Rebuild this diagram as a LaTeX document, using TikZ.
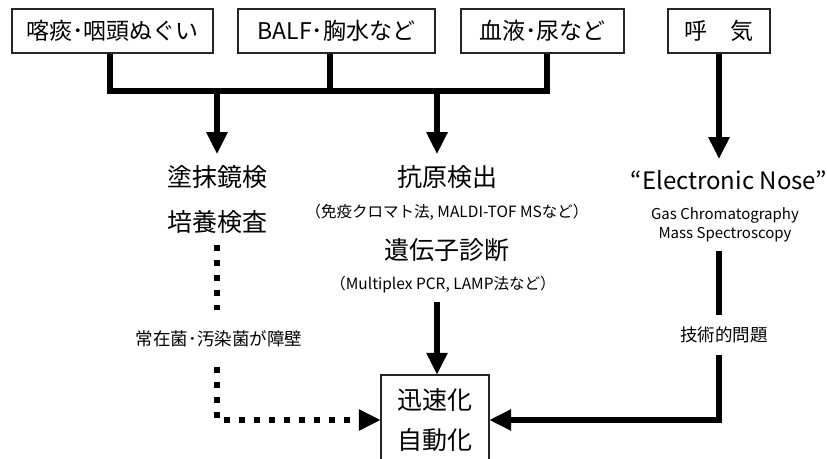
\documentclass[tikz,border=0pt]{standalone}
\usepackage{fontspec}
\setmainfont{Noto Sans CJK JP}
\usetikzlibrary{arrows.meta}
\begin{document}
\begin{tikzpicture}[x=1pt,y=-1pt,
  box/.style={draw=black!85, line width=1.6pt, minimum height=44pt, inner sep=0pt, font=\fontsize{23}{26}\selectfont},
  big/.style={font=\fontsize{25}{28}\selectfont, inner xsep=0pt, inner ysep=11pt},
  small/.style={font=\fontsize{15.5}{18}\selectfont, inner xsep=0pt, inner ysep=8pt},
  eng/.style={font=\fontsize{15}{18}\selectfont, inner xsep=0pt, inner ysep=8pt},
  lab/.style={font=\fontsize{17.5}{20}\selectfont, inner sep=0pt},
  fat/.style={line width=6pt},
  tip/.style={-{Triangle[length=22pt,width=20pt]}},
  dots/.style={line width=6pt, dash pattern=on 6pt off 9pt},
  goalbox/.style={font=\fontsize{25}{40}\selectfont, align=center, minimum width=108pt, minimum height=90pt, inner sep=0pt},
  frame/.style={draw=black!85, line width=1.6pt}
]
\useasboundingbox (0,0) rectangle (827,458);
% top boxes
\node[box, minimum width=201pt] (b1) at (112.5,31) {喀痰･咽頭ぬぐい};
\node[box, minimum width=197pt] (b2) at (336.5,31) {BALF･胸水など};
\node[box, minimum width=163pt] (b3) at (542.5,31) {血液･尿など};
\node[box, minimum width=102pt] (b4) at (719,31) {呼　気};
% middle texts
\node[big] (smear) at (217,177) {塗抹鏡検};
\node[big] (culture) at (217,222) {培養検査};
\node[big] (antigen) at (447,177) {抗原検出};
\node[small] (agnote) at (447,212) {（免疫クロマト法, MALDI-TOF MSなど）};
\node[big] (gene) at (447,250) {遺伝子診断};
\node[small] (genenote) at (443,285) {（Multiplex PCR, LAMP法など）};
\node[font=\fontsize{24}{28}\selectfont, inner xsep=0pt, inner ysep=11pt] (enose) at (729,180) {“Electronic Nose”};
\node[eng, inner sep=0pt] (gc) at (725,215) {Gas Chromatography};
\node[eng] (ms) at (725,235) {Mass Spectroscopy};
% labels on connectors
\node[lab, minimum height=57pt] (lab1) at (219,338.5) {常在菌･汚染菌が障壁};
\node[lab, minimum height=40pt] (lab2) at (724,335) {技術的問題};
% goal
\node[goalbox] (goal) at (435,420) {迅速化\\自動化};
\draw[frame] (goal.north west |- 0,460) -- (goal.north west) -- (goal.north east) -- (goal.north east |- 0,460);
% junction coordinates
\coordinate (j1) at (217,91);
\coordinate (j2) at (437,91);
% connectors
\draw[fat] ([xshift=-2.5pt]b1.south) |- ([xshift=4.5pt]b3.south |- j1) -- ([xshift=4.5pt]b3.south);
\draw[fat] ([xshift=-6.5pt]b2.south) -- ([xshift=-6.5pt]b2.south |- j1);
\draw[fat,tip] (j1) -- (j1 |- smear.north);
\draw[fat,tip] (j2) -- (j2 |- antigen.north);
\draw[fat,tip] (b4.south) -- (b4.south |- enose.north);
\draw[fat,tip] ([xshift=2pt]goal.north |- genenote.south) -- ([xshift=2pt]goal.north);
\draw[fat] (b4.south |- ms.south) -- (b4.south |- lab2.north);
\draw[fat,tip] (b4.south |- lab2.south) |- (goal.east);
\draw[dots] (j1 |- culture.south) -- (j1 |- lab1.north);
\draw[dots,tip] (j1 |- lab1.south) |- (goal.west);
\end{tikzpicture}
\end{document}
